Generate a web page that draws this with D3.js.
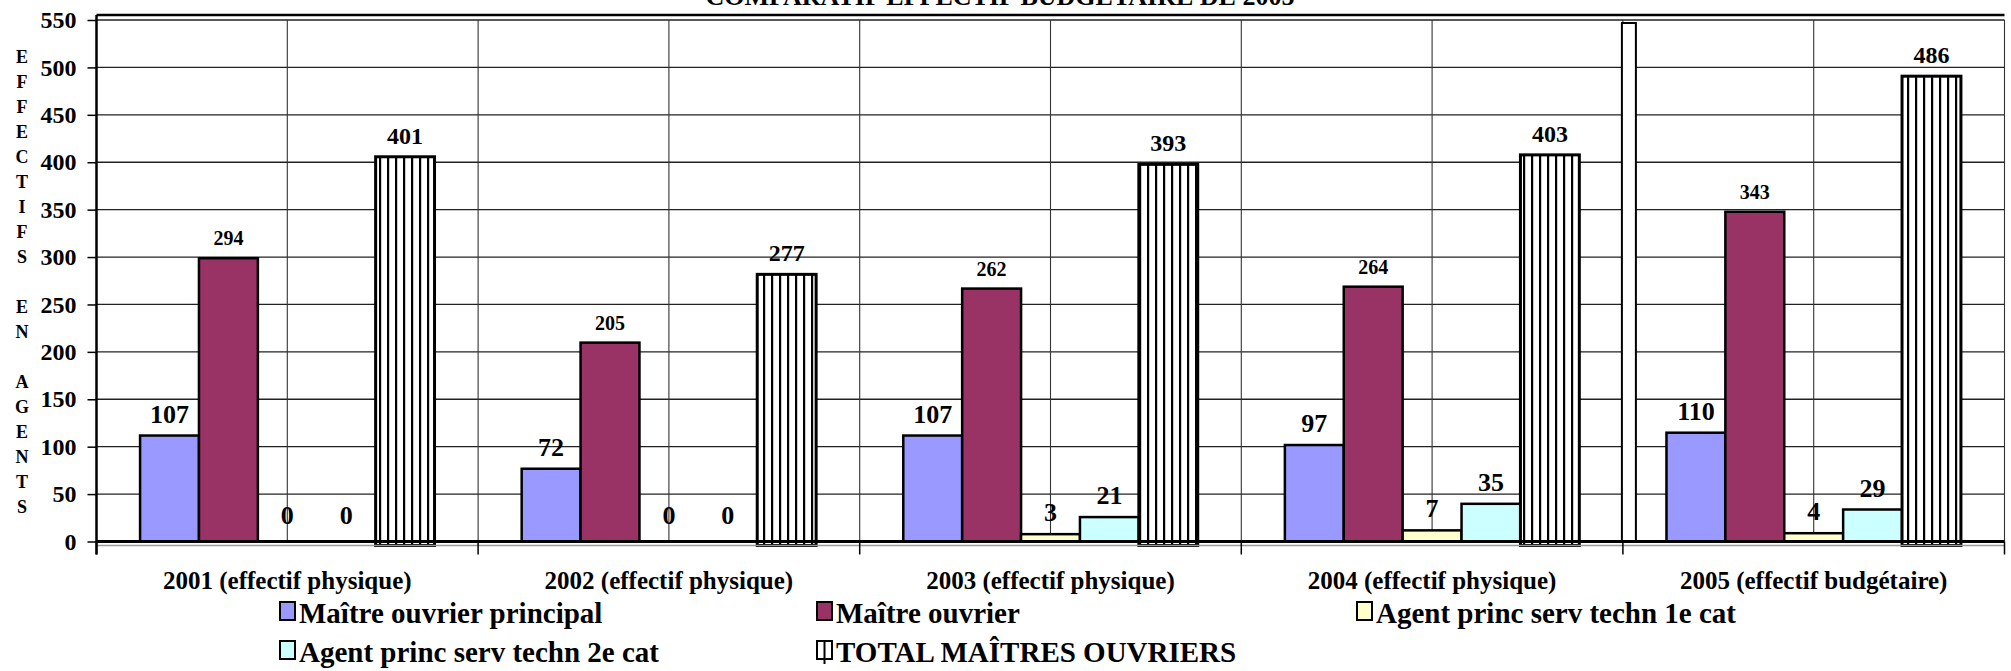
<!DOCTYPE html>
<html><head><meta charset="utf-8">
<script src="https://cdn.jsdelivr.net/npm/d3@7"></script>
<style>html,body{margin:0;padding:0;background:#fff;}svg{display:block;}
svg text{font-family:"Liberation Serif","Tinos","DejaVu Serif","Noto Serif","Times New Roman",serif;font-weight:bold;}</style>
</head><body>
<svg id="c" width="2011" height="671"></svg>
<script>
const categories = ["2001 (effectif physique)","2002 (effectif physique)","2003 (effectif physique)","2004 (effectif physique)","2005 (effectif budgétaire)"];
const seriesNames = ["Maître ouvrier principal","Maître ouvrier","Agent princ serv techn 1e cat","Agent princ serv techn 2e cat","TOTAL MAÎTRES OUVRIERS"];
const maitrePrincipal = [107,72,107,97,110];
const maitreOuvrier   = [294,205,262,264,343];
const agent1e         = [0,0,3,7,4];
const agent2e         = [0,0,21,35,29];
const totalMO         = [401,277,393,403,486];
const yTicks = [0,50,100,150,200,250,300,350,400,450,500,550];
const yTitle = "EFFECTIFS EN AGENTS";
const title = "COMPARATIF EFFECTIF BUDGETAIRE DE 2005";

const seriesValues = [maitrePrincipal, maitreOuvrier, agent1e, agent2e, totalMO];
const colors = ["#9999FF","#993366","#FFFFCC","#CCFFFF","url(#stripes)"];
const labelSize = [26,20,26,26,24];

const svg = d3.select("#c");
const L = 96.5, R = 2004.5, T = 20, B = 541.5;
const y = d3.scaleLinear().domain([0,550]).range([B,T]);
const x0 = d3.scaleBand().domain(categories).range([L,R]).padding(0);
const x1 = d3.scaleBand().domain(d3.range(5)).range([0,x0.bandwidth()]).paddingInner(0).paddingOuter(0.74);
const lift = 4.5;

const defs = svg.append("defs");
const pat = defs.append("pattern").attr("id","stripes").attr("patternUnits","userSpaceOnUse").attr("width",8).attr("height",10);
pat.append("rect").attr("width",8).attr("height",10).attr("fill","#fff");
pat.append("rect").attr("x",3).attr("width",2.2).attr("height",10).attr("fill","#000");

// title (cut off at top, as in the reference)
svg.append("text").attr("x",1000).attr("y",5).attr("text-anchor","middle")
  .attr("font-size",26).text(title);

// horizontal gridlines
svg.append("g").selectAll("line").data(yTicks.filter(d=>d>0)).join("line")
  .attr("x1",L).attr("x2",R).attr("y1",d=>y(d)).attr("y2",d=>y(d))
  .attr("stroke","#222").attr("stroke-width",1.3);
// vertical gridlines at half categories
const vx = [];
categories.forEach(c=>{vx.push(x0(c)); vx.push(x0(c)+x0.bandwidth()/2);});
vx.push(R);
svg.append("g").selectAll("line").data(vx).join("line")
  .attr("x1",d=>d).attr("x2",d=>d).attr("y1",T).attr("y2",B)
  .attr("stroke","#333").attr("stroke-width",1.1);

// top border
svg.append("line").attr("x1",L).attr("x2",R).attr("y1",15).attr("y2",15).attr("stroke","#000").attr("stroke-width",2.5);

// bars
const g = svg.append("g");
categories.forEach((c,ci)=>{
  seriesValues.forEach((vals,si)=>{
    const v = vals[ci];
    const bx = x0(c)+x1(si), bw = x1.bandwidth();
    const top = y(v)-lift;
    const bottom = si===4 ? B+4 : B;
    if (v>0) {
      g.append("rect").attr("x",bx).attr("y",top).attr("width",bw).attr("height",bottom-top)
        .attr("fill",colors[si]).attr("stroke","#000").attr("stroke-width",si===4?3:2.5);
    }
    g.append("text").attr("x",bx+bw/2).attr("y",top-13).attr("text-anchor","middle")
      .attr("font-size",labelSize[si]).text(v);
  });
});

// odd white rectangle at 2005 boundary
svg.append("rect").attr("x",x0(categories[4])-1).attr("y",23).attr("width",14).attr("height",B-23)
  .attr("fill","#fff").attr("stroke","#000").attr("stroke-width",2);

// axes lines
svg.append("line").attr("x1",L).attr("x2",R).attr("y1",B+4).attr("y2",B+4).attr("stroke","#999").attr("stroke-width",1.5);
svg.append("line").attr("x1",L).attr("x2",R).attr("y1",B).attr("y2",B).attr("stroke","#000").attr("stroke-width",3);
svg.append("line").attr("x1",L).attr("x2",L).attr("y1",15).attr("y2",B+13).attr("stroke","#000").attr("stroke-width",2.5);

// y axis
const yAxis = d3.axisLeft(y).tickValues(yTicks).tickSize(9).tickPadding(11);
const ya = svg.append("g").attr("transform",`translate(${L},0)`).call(yAxis);
ya.select(".domain").remove();
ya.attr("font-family",null).attr("font-size",null);
ya.selectAll(".tick line").attr("stroke","#000").attr("stroke-width",1.5);
ya.selectAll(".tick text").attr("font-size",24).attr("fill","#000");

// x axis ticks at category boundaries
const xb = categories.map(c=>x0(c)).concat([R]);
svg.append("g").selectAll("line").data(xb).join("line")
  .attr("x1",d=>d).attr("x2",d=>d).attr("y1",B).attr("y2",B+13).attr("stroke","#000").attr("stroke-width",1.5);
svg.append("g").selectAll("text").data(categories).join("text")
  .attr("x",d=>x0(d)+x0.bandwidth()/2).attr("y",589).attr("text-anchor","middle")
  .attr("font-size",25).text(d=>d);

// y title: stacked letters
svg.append("g").selectAll("text").data(yTitle.split("")).join("text")
  .attr("x",22).attr("y",(d,i)=>56.7+i*25+6.5).attr("text-anchor","middle")
  .attr("font-size",18).text(d=>d===" "?"":d);

// legend
const legPos = [[280,613],[817,613],[1357,613],[280,652],[817,652]];
const lg = svg.append("g");
seriesNames.forEach((n,i)=>{
  const [lx,ly] = legPos[i];
  lg.append("rect").attr("x",lx).attr("y",ly-11).attr("width",15).attr("height",18)
    .attr("fill",i===4?"#fff":colors[i]).attr("stroke","#000").attr("stroke-width",2);
  if(i===4){
    lg.append("line").attr("x1",lx+7.5).attr("x2",lx+7.5).attr("y1",ly-11).attr("y2",ly+12).attr("stroke","#000").attr("stroke-width",2);
  }
  lg.append("text").attr("x",lx+19).attr("y",ly+10).attr("font-size",29).text(n);
});
</script>
</body></html>
